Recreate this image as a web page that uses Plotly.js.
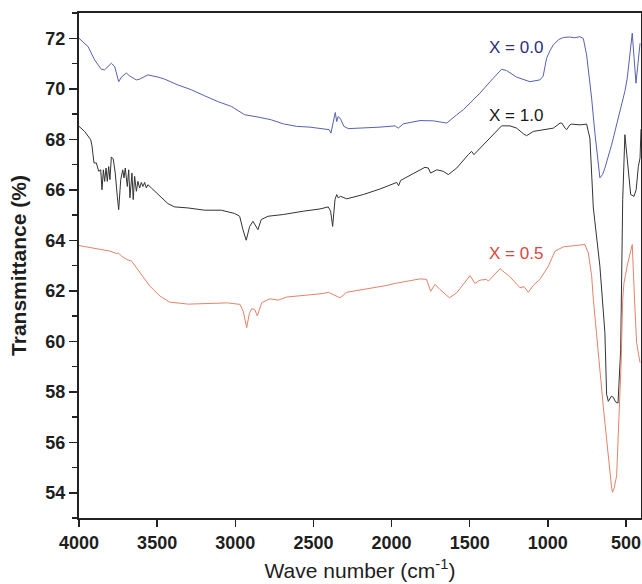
<!DOCTYPE html>
<html>
<head>
<meta charset="utf-8">
<script src="https://cdn.plot.ly/plotly-3.0.1.min.js"></script>
<style>html,body{margin:0;padding:0;background:#fff;}#chart{width:642px;height:584px;}</style>
</head>
<body>
<div id="chart"></div>
<script>
// X = 0.0 (blue)
const wnBlue = [4000, 3942, 3900, 3857, 3836, 3793, 3772, 3755, 3746, 3729, 3697, 3676, 3654, 3633, 3612, 3559, 3494, 3452, 3367, 3281, 3196, 3111, 3025, 2940, 2855, 2770, 2693, 2607, 2522, 2437, 2399, 2388, 2373, 2360, 2351, 2341, 2326, 2305, 2277, 2181, 2074, 1978, 1957, 1925, 1818, 1733, 1647, 1583, 1541, 1498, 1434, 1349, 1296, 1264, 1200, 1115, 1051, 1030, 1008, 987, 965, 930, 901, 860, 830, 795, 773, 752, 731, 720, 699, 688, 667, 650, 635, 592, 560, 528, 507, 492, 475, 460, 448, 436, 425, 410];
const tBlue = [72.0, 71.67, 71.14, 70.77, 70.75, 71.01, 70.88, 70.55, 70.28, 70.46, 70.62, 70.51, 70.42, 70.35, 70.38, 70.55, 70.46, 70.38, 70.15, 69.96, 69.72, 69.49, 69.30, 68.97, 68.88, 68.77, 68.61, 68.51, 68.48, 68.42, 68.38, 68.24, 68.64, 69.06, 68.70, 68.90, 68.80, 68.51, 68.42, 68.44, 68.48, 68.53, 68.44, 68.61, 68.74, 68.73, 68.64, 68.97, 69.17, 69.43, 69.83, 70.42, 70.77, 70.72, 70.46, 70.28, 70.35, 70.5, 71.21, 71.5, 71.74, 71.95, 72.03, 72.05, 72.02, 72.06, 71.99, 71.34, 70.35, 69.63, 68.24, 67.65, 66.47, 66.6, 66.86, 67.78, 68.57, 69.36, 69.9, 70.42, 71.34, 72.20, 71.2, 70.22, 70.9, 71.8];

// X = 1.0 (black)
const wnBlack = [4000, 3964, 3925, 3917, 3904, 3889, 3874, 3861, 3853, 3844, 3836, 3827, 3819, 3810, 3802, 3793, 3781, 3768, 3755, 3746, 3733, 3720, 3712, 3704, 3691, 3682, 3674, 3661, 3653, 3644, 3633, 3623, 3612, 3601, 3591, 3580, 3569, 3559, 3537, 3494, 3431, 3388, 3303, 3196, 3090, 3004, 2972, 2951, 2930, 2908, 2887, 2855, 2834, 2791, 2727, 2693, 2565, 2458, 2405, 2390, 2377, 2362, 2351, 2341, 2326, 2287, 2181, 2074, 1967, 1955, 1942, 1861, 1786, 1765, 1750, 1711, 1669, 1637, 1583, 1509, 1488, 1473, 1392, 1296, 1242, 1200, 1157, 1136, 1093, 1029, 965, 922, 911, 890, 880, 859, 848, 795, 752, 741, 731, 709, 690, 667, 635, 624, 613, 594, 581, 567, 551, 534, 521, 507, 495, 485, 470, 449, 435, 421, 410, 404];
const tBlack = [68.51, 68.31, 67.98, 67.74, 67.06, 67.06, 66.73, 66.79, 66.0, 66.79, 66.33, 66.86, 66.33, 66.92, 66.40, 67.30, 67.22, 66.66, 65.74, 65.21, 66.40, 66.79, 66.47, 66.86, 66.13, 66.79, 65.68, 66.66, 65.61, 66.53, 65.94, 66.33, 66.07, 66.29, 66.13, 66.29, 66.07, 66.20, 66.07, 65.81, 65.45, 65.32, 65.28, 65.19, 65.19, 65.06, 64.95, 64.42, 64.0, 64.55, 64.75, 64.42, 64.82, 64.95, 64.98, 65.02, 65.15, 65.24, 65.32, 65.15, 64.55, 65.61, 65.81, 65.68, 65.74, 65.64, 65.81, 66.03, 66.29, 66.16, 66.37, 66.64, 66.89, 66.86, 66.66, 66.79, 66.73, 66.60, 66.86, 67.39, 67.52, 67.39, 67.91, 68.53, 68.53, 68.44, 68.22, 68.14, 68.31, 68.38, 68.44, 68.64, 68.64, 68.44, 68.38, 68.57, 68.60, 68.57, 68.60, 68.3, 68.05, 65.28, 64.3, 62.97, 60.34, 57.9, 57.62, 57.82, 57.78, 57.6, 57.55, 59.68, 65.61, 68.18, 67.4, 66.73, 65.81, 65.74, 66.0, 66.92, 67.26, 68.4];

// X = 0.5 (red)
const wnRed = [4000, 3866, 3802, 3759, 3749, 3727, 3695, 3663, 3610, 3546, 3482, 3420, 3300, 3150, 3050, 2970, 2949, 2927, 2910, 2895, 2875, 2859, 2831, 2778, 2725, 2671, 2607, 2522, 2437, 2405, 2330, 2287, 2202, 2117, 2031, 1978, 1903, 1818, 1776, 1750, 1722, 1690, 1630, 1583, 1498, 1467, 1434, 1392, 1381, 1306, 1242, 1178, 1152, 1125, 1093, 1051, 997, 954, 901, 837, 763, 741, 720, 709, 690, 667, 645, 624, 605, 592, 586, 575, 560, 549, 539, 532, 521, 513, 492, 475, 460, 445, 432, 410];
const tRed = [63.79, 63.66, 63.57, 63.47, 63.50, 63.37, 63.24, 63.17, 62.71, 62.18, 61.79, 61.55, 61.47, 61.5, 61.52, 61.46, 61.19, 60.54, 61.1, 61.29, 61.25, 61.0, 61.53, 61.68, 61.63, 61.75, 61.79, 61.85, 61.89, 61.94, 61.72, 61.94, 62.02, 62.12, 62.21, 62.29, 62.38, 62.47, 62.45, 61.98, 62.25, 62.05, 61.72, 61.92, 62.60, 62.29, 62.42, 62.45, 62.38, 62.87, 62.55, 62.12, 62.16, 61.94, 62.21, 62.45, 62.97, 63.57, 63.74, 63.79, 63.83, 63.50, 62.6, 61.66, 60.3, 58.76, 57.4, 56.12, 54.9, 54.2, 54.02, 54.2, 54.67, 56.39, 57.9, 59.02, 61.66, 62.3, 63.0, 63.4, 63.83, 61.6, 59.94, 59.15];

const seriesNames = ["X = 0.0", "X = 1.0", "X = 0.5"];
const xTicks = [4000, 3500, 3000, 2500, 2000, 1500, 1000, 500];
const yTicks = [54, 56, 58, 60, 62, 64, 66, 68, 70, 72];

const traces = [
  {x: wnBlue, y: tBlue, name: seriesNames[0], mode: 'lines', line: {color: '#5860b2', width: 1}},
  {x: wnBlack, y: tBlack, name: seriesNames[1], mode: 'lines', line: {color: '#333333', width: 1}},
  {x: wnRed, y: tRed, name: seriesNames[2], mode: 'lines', line: {color: '#e6826a', width: 1}}
];

const axisFont = {family: 'Liberation Sans, Arial, sans-serif', size: 18, color: '#1e1e1e', weight: 'bold'};

const layout = {
  width: 642, height: 584,
  margin: {l: 79, r: 1, t: 13, b: 66},
  paper_bgcolor: '#ffffff', plot_bgcolor: '#ffffff',
  showlegend: false,
  xaxis: {
    range: [4000, 404], tickvals: xTicks, ticktext: xTicks.map(String),
    ticks: 'outside', ticklen: 7, tickwidth: 1.5, tickcolor: '#222',
    showline: true, linewidth: 2, linecolor: '#222', mirror: true,
    showgrid: false, zeroline: false, tickfont: axisFont,
    title: {text: 'Wave number (cm<sup>-1</sup>)', font: {family: 'Liberation Sans, Arial, sans-serif', size: 21, color: '#1e1e1e'}, standoff: 12}
  },
  yaxis: {
    range: [53, 73], tickvals: yTicks, ticktext: yTicks.map(String),
    ticks: 'outside', ticklen: 8, tickwidth: 1.5, tickcolor: '#222',
    minor: {dtick: 1, tick0: 0, ticks: 'outside', ticklen: 5, tickwidth: 1.5, tickcolor: '#222', showgrid: false},
    showline: true, linewidth: 2, linecolor: '#222', mirror: true,
    showgrid: false, zeroline: false, tickfont: axisFont,
    title: {text: 'Transmittance (%)', font: {family: 'Liberation Sans, Arial, sans-serif', size: 21, color: '#1e1e1e', weight: 'bold'}, standoff: 13}
  },
  annotations: [
    {x: 1204, y: 71.62, xref: 'x', yref: 'y', text: seriesNames[0], showarrow: false, font: {family: 'Liberation Sans, Arial, sans-serif', size: 17, color: '#2e2e7e'}},
    {x: 1204, y: 68.93, xref: 'x', yref: 'y', text: seriesNames[1], showarrow: false, font: {family: 'Liberation Sans, Arial, sans-serif', size: 17, color: '#1a1a1a'}},
    {x: 1204, y: 63.47, xref: 'x', yref: 'y', text: seriesNames[2], showarrow: false, font: {family: 'Liberation Sans, Arial, sans-serif', size: 17, color: '#d9483b'}}
  ]
};

Plotly.newPlot('chart', traces, layout, {displayModeBar: false, staticPlot: true});
</script>
</body>
</html>
